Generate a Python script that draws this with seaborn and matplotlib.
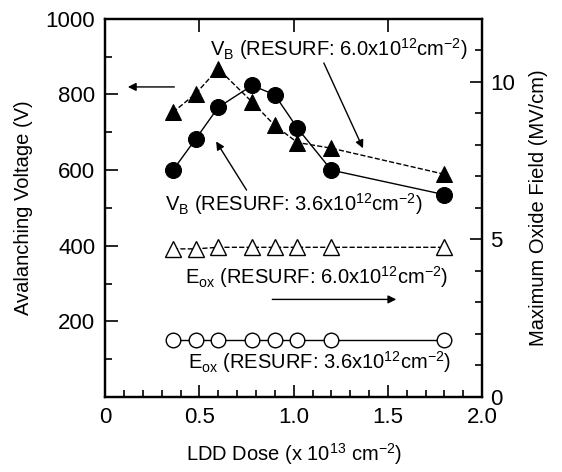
import numpy as np
import pandas as pd
import seaborn as sns
import matplotlib.pyplot as plt
from matplotlib.ticker import MultipleLocator

dose = [0.36, 0.48, 0.6, 0.78, 0.9, 1.02, 1.2, 1.8]
vb_36 = [600, 682, 766, 824, 799, 711, 600, 535]
vb_60 = [753, 802, 868, 780, 718, 673, 658, 589]
eox_36 = [1.8, 1.8, 1.8, 1.8, 1.8, 1.8, 1.8, 1.8]
eox_60 = [4.7, 4.7, 4.75, 4.75, 4.75, 4.75, 4.75, 4.75]

sns.set_style("ticks")
plt.rcParams['font.family'] = ['Liberation Sans', 'DejaVu Sans']
plt.rcParams['mathtext.fontset'] = 'custom'
plt.rcParams['mathtext.rm'] = 'Liberation Sans'
plt.rcParams['mathtext.it'] = 'Liberation Sans'
for k in ['text.color', 'axes.labelcolor', 'xtick.color', 'ytick.color', 'axes.edgecolor']:
    plt.rcParams[k] = 'black'

fig = plt.figure(figsize=(5.62, 4.72), dpi=100)
ax = fig.add_axes([0.187, 0.159, 0.671, 0.801])
ax2 = ax.twinx()

# left axis: avalanching voltage
sns.lineplot(x=dose, y=vb_36, ax=ax, color='k', lw=1.0, marker='o', markersize=11.5,
             markerfacecolor='k', markeredgecolor='k')
sns.lineplot(x=dose, y=vb_60, ax=ax, color='k', lw=1.0, marker='^', markersize=12,
             markerfacecolor='k', markeredgecolor='k', dashes=(4, 3), linestyle='--')

# right axis: oxide field
sns.lineplot(x=dose, y=eox_36, ax=ax2, color='k', lw=1.0, marker='o', markersize=10.5,
             markerfacecolor='white', markeredgecolor='k', markeredgewidth=1.0)
sns.lineplot(x=dose, y=eox_60, ax=ax2, color='k', lw=1.0, marker='^', markersize=11,
             markerfacecolor='white', markeredgecolor='k', markeredgewidth=1.0,
             linestyle='--', dashes=(4, 3))

ax.set_xlim(0, 2.0)
ax.set_ylim(0, 1000)
ax2.set_ylim(0, 12)
ax.set_xticks([0, 0.5, 1.0, 1.5, 2.0], ['0', '0.5', '1.0', '1.5', '2.0'])
ax.xaxis.set_minor_locator(MultipleLocator(0.1))
ax.set_yticks([200, 400, 600, 800, 1000])
ax.set_yticks([100, 300, 500, 700, 900], minor=True)
ax2.set_yticks([0, 5, 10])
ax2.yaxis.set_minor_locator(MultipleLocator(1))

ax.tick_params(which='both', direction='in', top=True, right=False, labelsize=16, width=1.2)
ax.tick_params(which='major', length=9, pad=7)
ax.tick_params(which='minor', length=5, top=False)
ax2.tick_params(which='both', direction='in', labelsize=16, width=1.2)
ax2.tick_params(which='major', length=9, pad=6)
ax2.tick_params(which='minor', length=5)
for a in (ax, ax2):
    for s in a.spines.values():
        s.set_linewidth(1.6)
        s.set_visible(True)

ax.set_xlabel('LDD Dose (x 10$^{13}$ cm$^{-2}$)', fontsize=14.5, labelpad=10)
ax.set_ylabel('Avalanching Voltage (V)', fontsize=14.5, labelpad=9)
ax2.set_ylabel('Maximum Oxide Field (MV/cm)', fontsize=14.5, labelpad=10)

fs = 14.5
arrow = dict(arrowstyle='-|>', color='k', lw=1.0, mutation_scale=12)
ax.text(1.24, 921, 'V$_{B}$ (RESURF: 6.0x10$^{12}$cm$^{-2}$)', fontsize=fs, ha='center', va='center')
ax.annotate('', xy=(1.374, 651), xytext=(1.154, 890), arrowprops=arrow)
ax.annotate('', xy=(0.106, 820), xytext=(0.382, 820), arrowprops=arrow)
ax.text(1.0, 510, 'V$_{B}$ (RESURF: 3.6x10$^{12}$cm$^{-2}$)', fontsize=fs, ha='center', va='center')
ax.annotate('', xy=(0.581, 682), xytext=(0.758, 541), arrowprops=arrow)
ax.text(1.12, 317, 'E$_{ox}$ (RESURF: 6.0x10$^{12}$cm$^{-2}$)', fontsize=fs, ha='center', va='center')
ax.annotate('', xy=(1.559, 258), xytext=(0.872, 258), arrowprops=arrow)
ax.text(1.14, 91, 'E$_{ox}$ (RESURF: 3.6x10$^{12}$cm$^{-2}$)', fontsize=fs, ha='center', va='center')

plt.savefig('out.png', dpi=100)
